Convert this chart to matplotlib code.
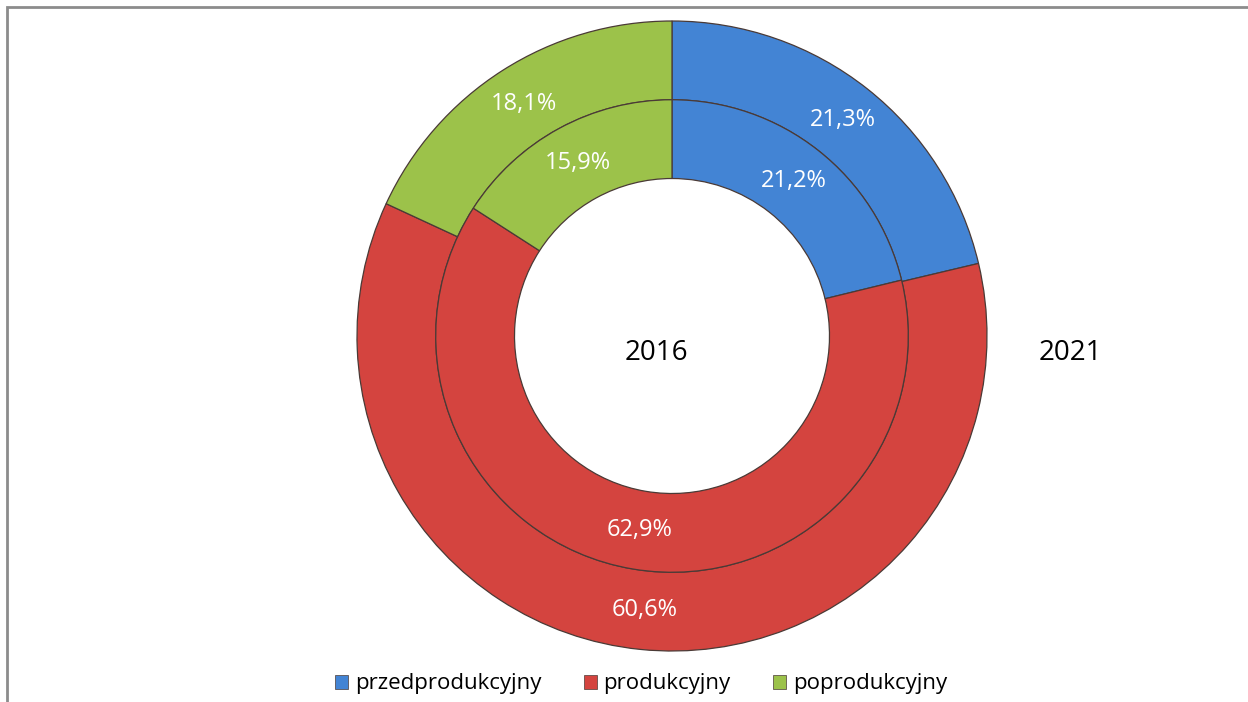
#!/usr/bin/env python3
"""Podwójny wykres pierścieniowy: udział etapów 2016 (wewnątrz) i 2021 (na zewnątrz)."""
import matplotlib
matplotlib.use("Agg")
import matplotlib.pyplot as plt
from matplotlib.patches import Rectangle

categories = ["przedprodukcyjny", "produkcyjny", "poprodukcyjny"]
values_2016 = [21.2, 62.9, 15.9]
values_2021 = [21.3, 60.6, 18.1]
years = ["2016", "2021"]

colors = ["#4384d4", "#d4443f", "#9cc24a"]
edge = "#4a3a36"

plt.rcParams["font.family"] = ["Open Sans", "DejaVu Sans"]

W, H = 1248, 702
fig = plt.figure(figsize=(W / 100, H / 100), dpi=100)

# ramka wykresu (widać tylko lewą i górną krawędź)
fig.add_artist(Rectangle((7 / W, -0.1), 1.2, (H - 7) / H + 0.1, transform=fig.transFigure,
                         fill=False, edgecolor="#8c8c8c", linewidth=2))

# oś dopasowana do pierścienia: środek (672, 336) px, promień 315 px
cx, cy, r = 672, H - 336, 315
ax = fig.add_axes([(cx - r) / W, (cy - r) / H, 2 * r / W, 2 * r / H])


def fmt(p):
    return f"{p:.1f}%".replace(".", ",")


wedge_kw = dict(edgecolor=edge, linewidth=0.9)
text_kw = dict(color="white", fontsize=17)

ax.pie(values_2021, radius=1.0, colors=colors, startangle=90, counterclock=False,
       wedgeprops=dict(width=0.25, **wedge_kw), autopct=fmt, pctdistance=0.875,
       textprops=text_kw)
ax.pie(values_2016, radius=0.75, colors=colors, startangle=90, counterclock=False,
       wedgeprops=dict(width=0.25, **wedge_kw), autopct=fmt, pctdistance=0.625 / 0.75,
       textprops=text_kw)
ax.set_xlim(-1, 1)
ax.set_ylim(-1, 1)
ax.axis("off")

fig.text(656 / W, 1 - 353 / H, years[0], fontsize=20, ha="center", va="center")
fig.text(1070 / W, 1 - 353 / H, years[1], fontsize=20, ha="center", va="center")

handles = [Rectangle((0, 0), 1, 1, facecolor=c, edgecolor=edge, linewidth=0.5) for c in colors]
fig.legend(handles, categories, loc="center", bbox_to_anchor=(641 / W, 1 - 684 / H),
           ncol=3, frameon=False, fontsize=16, handlelength=0.6, handleheight=0.6,
           handletextpad=0.3, columnspacing=1.9)

fig.savefig("out.png", dpi=100, facecolor="white")
